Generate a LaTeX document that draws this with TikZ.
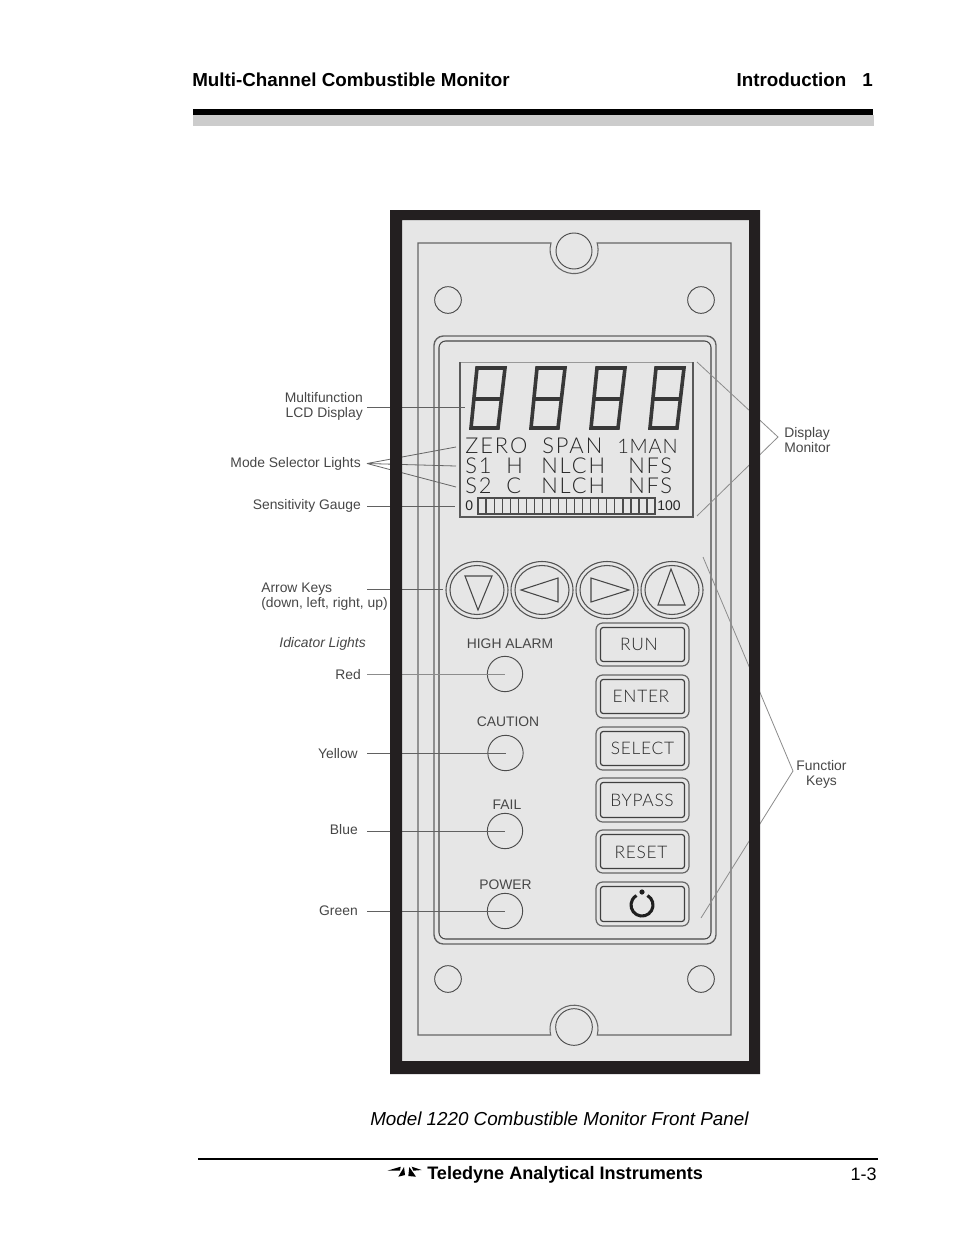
\documentclass[tikz,border=0pt]{standalone}
\usepackage{fontspec}
\setmainfont{Liberation Sans}
\newfontfamily\lcdfont[LetterSpace=4]{Lato Light}
\newfontfamily\lcdwide[LetterSpace=9]{Lato Light}
\definecolor{plate}{HTML}{E6E6E6}
\definecolor{frame}{HTML}{231F20}
\definecolor{lcdink}{HTML}{262626}
\tikzset{
  x=0.75pt,y=-0.75pt,
  hdr/.style={inner sep=0pt,font=\fontsize{14.1}{16}\selectfont\bfseries,text=black},
  lab/.style={inner sep=0pt,align=center,font=\fontsize{10.4}{11.3}\selectfont,text=black!72},
  lcdtxt/.style={inner sep=0pt,font=\fontsize{16.4}{18}\lcdwide\selectfont,text=lcdink},
  keytxt/.style={inner sep=0pt,font=\fontsize{13}{15}\lcdfont\selectfont,text=lcdink},
  leader/.style={draw=black!62,line width=0.65pt},
  pointer/.style={draw=black!45,line width=0.6pt},
  thinl/.style={draw=black!60,line width=0.8pt},
  darkl/.style={draw=black!72,line width=0.8pt},
  led/.style={circle,draw=black!70,line width=0.7pt,minimum size=26.5pt,inner sep=0pt},
  hole/.style={circle,draw=black!70,line width=0.7pt,inner sep=0pt},
  digit/.style={draw=black!78,line width=2.7pt,line join=miter},
  btnout/.style={draw=black!60,line width=0.9pt,rounded corners=5pt},
  btnin/.style={draw=black!75,line width=0.9pt,rounded corners=2pt},
}
\begin{document}
\begin{tikzpicture}
\useasboundingbox (0,0) rectangle (954,1235);
\fill[white] (0,0) rectangle (954,1235);
% header
\node[hdr,anchor=base west] (title) at (192,86) {Multi-Channel Combustible Monitor};
\node[hdr,anchor=base east] (intro) at (873,86) {Introduction\hspace{12pt}1};
\fill[black!20] (193,115) rectangle (874,126);
\fill[black] (193,109) rectangle (873,115);
% plate
\fill[plate] (395,215) rectangle (755,1068);
% plate outline with screw notches
\draw[thinl] (418,1035) -- (418,243) -- (551,243) arc[start angle=164,end angle=376,radius=18pt] -- (731,243) -- (731,1035) -- (597.3,1035) arc[start angle=-14,end angle=194,radius=18pt] -- cycle;
\node[hole,minimum size=27pt,fill=plate] (screwT) at (574,251) {};
\node[hole,minimum size=27.5pt,fill=plate] (screwB) at (574,1027) {};
\node[hole,minimum size=20pt] (holeTL) at (448,300) {};
\node[hole,minimum size=20pt] (holeTR) at (701,300) {};
\node[hole,minimum size=20pt] (holeBL) at (448,979) {};
\node[hole,minimum size=20pt] (holeBR) at (701,979) {};
% inner bezel
\draw[draw=black!62,line width=1pt,rounded corners=7pt] (434,336) rectangle (716,944);
\draw[draw=black!72,line width=0.8pt,rounded corners=5pt] (439,341) rectangle (711,939);
% LCD
\draw[draw=black!40,line width=0.7pt] (460,362) -- (693,362);
\draw[draw=black!65,line width=0.9pt] (693,362) -- (693,517) -- (460,517) -- (460,362);
\foreach \d in {0,60,120,179}{
  \draw[digit] (477+\d,368) -- (505+\d,368) -- (498+\d,428) -- (471+\d,428) -- cycle;
  \draw[digit] (474+\d,399) -- (502+\d,399);
}
\node[lcdtxt,anchor=base west] (zero) at (465,453) {ZERO};
\node[lcdtxt,anchor=base west] (span) at (542,453) {SPAN};
\node[lcdtxt,anchor=base west,font=\fontsize{15}{18}\lcdfont\selectfont] (man) at (617,453) {1MAN};
\node[lcdtxt,anchor=base west] (sa) at (465,473) {S1};
\node[lcdtxt,anchor=base west] (ha) at (506,473) {H};
\node[lcdtxt,anchor=base west] (nla) at (541,473) {NLCH};
\node[lcdtxt,anchor=base west] (nfa) at (628,473) {NFS};
\node[lcdtxt,anchor=base west] (sb) at (465,493) {S2};
\node[lcdtxt,anchor=base west] (hb) at (506,493) {C};
\node[lcdtxt,anchor=base west] (nlb) at (541,493) {NLCH};
\node[lcdtxt,anchor=base west] (nfb) at (628,493) {NFS};
\node[inner sep=0pt,font=\fontsize{10.5}{12}\selectfont,text=lcdink,anchor=mid west] (gzero) at (465,507) {0};
\node[inner sep=0pt,font=\fontsize{10.5}{12}\selectfont,text=lcdink,anchor=mid west] (ghun) at (657,507) {100};
\draw[draw=black!70,line width=0.8pt] (478,498) rectangle (655,514);
\foreach \i in {1,...,21}{
  \draw[draw=black!70,line width=0.9pt] (478+\i*8.05,498) -- (478+\i*8.05,514);
}
% arrow keys
\foreach \n/\cx in {kd/477,kl/542,kr/607,ku/672}{
  \draw[draw=black!68,line width=0.8pt] (\cx,590) ellipse[x radius=31,y radius=28.5];
  \draw[draw=black!68,line width=0.8pt] (\cx,590) ellipse[x radius=27,y radius=24.5];
  \coordinate (\n) at (\cx,590);
}
\draw[darkl] (465,576) -- (492,576) -- (478,610) -- cycle;
\draw[darkl] (558,578) -- (558,602) -- (521,590) -- cycle;
\draw[darkl] (591,578) -- (591,602) -- (629,590) -- cycle;
\draw[darkl] (671,569) -- (658,605) -- (685,605) -- cycle;
% function buttons
\foreach \yt/\yb in {623/666,675/718,727/770,778/822,830/873,882/926}{
  \draw[btnout] (596,\yt) rectangle (689,\yb);
  \draw[btnin] (600.5,\yt+4.5) rectangle (684.5,\yb-4.5);
}
\node[keytxt] (run) at (639,644.5) {RUN};
\node[keytxt] (enter) at (641,696.5) {ENTER};
\node[keytxt] (select) at (642.5,748) {SELECT};
\node[keytxt] (bypass) at (642,800) {BYPASS};
\node[keytxt] (reset) at (641,852) {RESET};
\draw[draw=black!88,line width=2.3pt] (647.5,895.5) arc[start angle=60,end angle=-240,radius=8.25pt];
\fill[black!88] (642,892) circle (2.6);
% indicator lights
\node[lab] (thigh) at (510,644) {HIGH ALARM};
\node[lab] (tcaut) at (508,722) {CAUTION};
\node[lab] (tfail) at (507,805) {FAIL};
\node[lab] (tpow) at (505.5,885) {POWER};
\node[led] (ledR) at (505,674) {};
\node[led] (ledY) at (505.5,753) {};
\node[led] (ledB) at (505,831) {};
\node[led] (ledG) at (505,911) {};
% left labels
\node[lab,align=right,anchor=east] (lcdl) at (363,406) {Multifunction\\LCD Display};
\node[lab,anchor=east] (model) at (361,464) {Mode Selector Lights};
\node[lab,anchor=east] (sens) at (361,506) {Sensitivity Gauge};
\node[lab,align=left,anchor=west] (arrowl) at (261,597) {Arrow Keys\\(down, left, right, up)};
\node[lab,anchor=east,font=\fontsize{10.4}{12}\selectfont\itshape] (indic) at (366,644) {Idicator Lights};
\node[lab,anchor=east] (red) at (361,675) {Red};
\node[lab,anchor=east] (yel) at (358,754) {Yellow};
\node[lab,anchor=east] (blu) at (358,830) {Blue};
\node[lab,anchor=east] (gre) at (358,911) {Green};
% right labels
\node[lab,align=left,anchor=west] (dispm) at (784,440) {Display\\Monitor};
\node[lab,align=center] (funck) at (821.5,774) {Functior\\Keys};
% leaders
\coordinate (lcdS) at (367,407); \coordinate (lcdE) at (465,407);
\coordinate (modeS) at (367,463.5);
\coordinate (m1) at (456,447); \coordinate (m2) at (456,466); \coordinate (m3) at (456,487);
\coordinate (gaugeS) at (367,506.5); \coordinate (gaugeE) at (455,506.5);
\coordinate (akS) at (367,589); \coordinate (akE) at (443,589);
\coordinate (rS) at (367,674); \coordinate (yS) at (367,753);
\coordinate (bS) at (367,831); \coordinate (gS) at (367,911);
\coordinate (dmT) at (697,362); \coordinate (dmA) at (778,437); \coordinate (dmB) at (697,516);
\coordinate (fkT) at (703,557); \coordinate (fkA) at (793,771); \coordinate (fkB) at (701,918);
\draw[leader] (lcdS) -- (lcdE);
\draw[pointer,draw=black!60] (modeS) -- (m1);
\draw[pointer,draw=black!60] (modeS) -- (m2);
\draw[pointer,draw=black!60] (modeS) -- (m3);
\draw[leader] (gaugeS) -- (gaugeE);
\draw[leader] (akS) -- (akE);
\draw[pointer] (rS) -- (ledR.center);
\draw[leader] (yS) -- (ledY.center);
\draw[leader] (bS) -- (ledB.center);
\draw[leader] (gS) -- (ledG.center);
\draw[pointer] (dmT) -- (dmA) -- (dmB);
\draw[pointer] (fkT) -- (fkA) -- (fkB);
% black frame on top of the leaders
\fill[frame,even odd rule] (390,210) rectangle (760,1074) (402,220) rectangle (749,1061);
% caption
\node[inner sep=0pt,anchor=base west,font=\fontsize{14.1}{16}\selectfont\itshape] (cap) at (370,1125) {Model 1220 Combustible Monitor Front Panel};
% footer
\fill[black] (198,1158) rectangle (878,1160);
\fill[black] (387.3,1170.7) -- (400.7,1166.7) -- (400,1170.7) -- cycle;
\fill[black] (404,1167) -- (398.3,1176.7) -- (405,1175) -- cycle;
\fill[black] (409.3,1167) -- (408.3,1176) -- (416,1176.7) -- cycle;
\fill[black] (411.7,1166.7) -- (421.7,1170) -- (413.3,1170.7) -- cycle;
\node[hdr,font=\fontsize{13.55}{16}\selectfont\bfseries,anchor=base west] (brand) at (427,1179) {Teledyne Analytical Instruments};
\node[inner sep=0pt,anchor=base east,font=\fontsize{13.5}{16}\selectfont] (pg) at (877,1180) {1-3};
\end{tikzpicture}
\end{document}
